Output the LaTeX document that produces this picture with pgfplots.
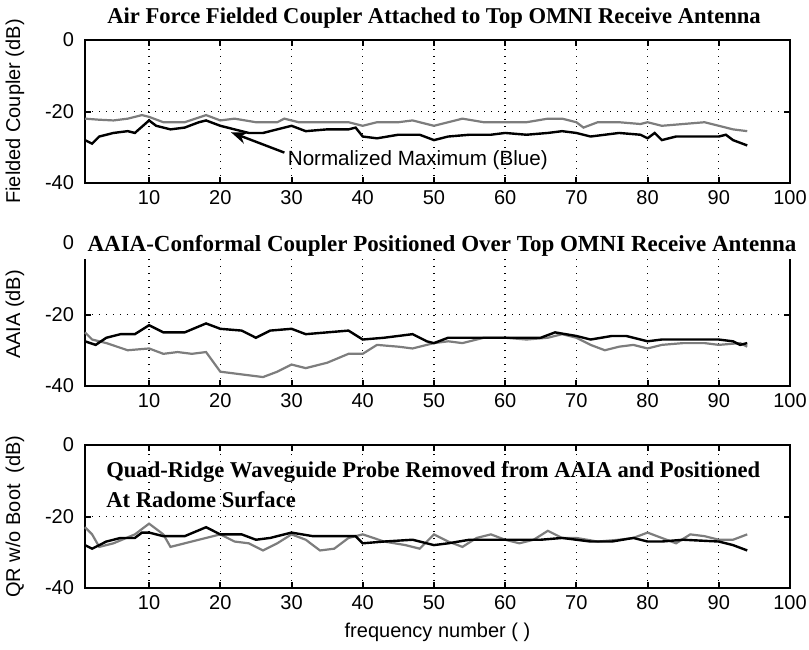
\documentclass[border=0pt]{standalone}
\usepackage{pgfplots}
\pgfplotsset{compat=1.18}
\usetikzlibrary{arrows.meta}
\usepackage{fontspec}
\setmainfont{Liberation Serif}
\newfontfamily\arial{Liberation Sans}
\definecolor{lgray}{RGB}{125,125,125}

\pgfplotsset{
  panel/.style={
    width=352.5pt, height=71.5pt, scale only axis,
    xmin=1, xmax=100, ymin=-40, ymax=0,
    xtick={10,20,...,100}, ytick={-40,-20,0},
    grid=major,
    major grid style={black, line width=0.7pt, dash pattern=on 0.7pt off 2.8pt},
    tick align=inside, major tick length=3pt,
    axis line style={line width=1pt, black},
    tick style={line width=1pt, black},
    ticklabel style={font=\arial\fontsize{10}{12}\selectfont},
    yticklabel style={xshift=-2pt},
    /pgf/number format/assume math mode=true,
    xlabel style={font=\arial\fontsize{10}{12}\selectfont},
    every axis y label/.style={at={(axis description cs:-0.0993,0.5)}, rotate=90, anchor=center,
      font=\arial\fontsize{10}{12}\selectfont},
    clip=false,
  },
  blk/.style={black, line width=1.2pt},
  gry/.style={lgray, line width=1.1pt},
}

\begin{document}
\begin{tikzpicture}
\useasboundingbox (0,0) rectangle (404.5pt,-324.5pt);

% ---------------- panel 1 ----------------
\begin{axis}[panel, name=ax1, at={(42.5pt,-20pt)}, anchor=north west,
  ylabel={Fielded Coupler (dB)}]
\addplot[gry] coordinates {
(1,-22) (3,-22.3) (5,-22.5) (7,-22) (9,-21) (10,-21.5) (12,-23) (15,-23) (18,-21)
(20,-22.5) (22,-22) (25,-23) (28,-23) (29,-22) (31,-23) (35,-23) (38,-23) (40,-24)
(42,-23) (45,-23) (47,-22.5) (50,-24) (52,-23) (54,-22) (57,-23) (60,-23) (63,-23)
(66,-22) (68,-22) (70,-23) (71,-24.5) (73,-23) (76,-23) (79,-23.5) (80,-23) (82,-24)
(85,-23.5) (88,-23) (90,-24) (92,-25) (94,-25.5)};
\addplot[blk] coordinates {
(1,-28) (2,-29) (3,-27) (5,-26) (7,-25.5) (8,-26) (10,-22.5) (11,-24) (13,-25)
(15,-24.5) (17,-23) (18,-22.5) (20,-24) (22,-25) (24,-26) (26,-26) (28,-25) (30,-24)
(32,-25.5) (35,-25) (38,-25) (39,-24.5) (40,-27) (42,-27.5) (45,-26.5) (48,-26.5)
(50,-28) (52,-27) (55,-26.5) (58,-26.5) (60,-26) (63,-26.5) (66,-26) (68,-25.5)
(70,-26) (72,-27) (74,-26.5) (76,-26) (79,-26.5) (80,-27.5) (81,-26) (82,-28)
(84,-27) (87,-27) (90,-27) (91,-26.5) (92,-28) (94,-29.5)};
\draw[-{Stealth[length=8pt,width=6pt]}, line width=1.2pt] (axis cs:29,-31.5) -- (axis cs:21.5,-25.8);
\node[font=\arial\fontsize{10.3}{12}\selectfont, anchor=west] at (axis cs:28.5,-33.5) {Normalized Maximum (Blue)};
\end{axis}
\node[font=\bfseries\fontsize{11.3}{13}\selectfont] at (217pt,-9pt) {Air Force Fielded Coupler Attached to Top OMNI Receive Antenna};

% ---------------- panel 2 ----------------
\begin{axis}[panel, name=ax2, at={(42.5pt,-121.5pt)}, anchor=north west,
  ylabel={AAIA (dB)}]
\addplot[gry] coordinates {
(1,-25) (2,-27) (4,-28) (7,-30) (10,-29.5) (12,-31) (14,-30.5) (16,-31) (18,-30.5)
(20,-36) (22,-36.5) (24,-37) (26,-37.5) (28,-36) (30,-34) (32,-35) (35,-33.5)
(38,-31) (40,-31) (42,-28.5) (45,-29) (47,-29.5) (50,-28) (52,-27.5) (54,-28)
(57,-26.5) (60,-26.5) (63,-27) (66,-26.5) (68,-25.5) (70,-26.5) (72,-28.5) (74,-30)
(76,-29) (78,-28.5) (80,-29.5) (82,-28.5) (85,-28) (88,-28) (90,-28.5) (93,-28) (94,-29)};
\addplot[blk] coordinates {
(1,-27.5) (2.5,-28.5) (4,-26.5) (6,-25.5) (8,-25.5) (10,-23) (12,-25) (15,-25)
(18,-22.5) (20,-24) (23,-24.5) (25,-26.5) (27,-24.5) (30,-24) (32,-25.5) (35,-25)
(38,-24.5) (40,-27) (43,-26.5) (45,-26) (47,-25.5) (49,-27.5) (50,-28) (52,-26.5)
(55,-26.5) (60,-26.5) (65,-26.5) (67,-25) (70,-26) (72,-27) (75,-26) (77,-26)
(80,-27.5) (82,-27) (85,-27) (90,-27) (92,-27.5) (93,-28.5) (94,-28)};
\end{axis}
\node[fill=white, inner sep=0pt, minimum width=358pt, minimum height=13pt] at (220pt,-123pt) {};
\node[font=\bfseries\fontsize{11.5}{13}\selectfont, inner sep=1pt] at (221pt,-123pt)
  {AAIA-Conformal Coupler Positioned Over Top OMNI Receive Antenna};

% ---------------- panel 3 ----------------
\begin{axis}[panel, name=ax3, at={(42.5pt,-222.5pt)}, anchor=north west,
  ylabel={QR w/o Boot\ \ (dB)}, xlabel={frequency number ( )}]
\addplot[gry] coordinates {
(1,-23) (2,-25) (3,-28.5) (5,-27.5) (8,-25) (10,-22) (12,-25) (13,-28.5) (15,-27.5)
(18,-26) (20,-25) (22,-27) (24,-27.5) (26,-29.5) (28,-27.5) (30,-25) (32,-26.5)
(34,-29.5) (36,-29) (38,-26) (40,-25) (43,-27) (46,-28) (48,-29) (50,-25) (52,-27)
(54,-28.5) (56,-26) (58,-25) (60,-26.5) (62,-27.5) (64,-26.5) (66,-24) (68,-26)
(70,-26) (73,-27) (76,-26.5) (78,-26) (80,-24.5) (82,-26) (84,-27.5) (86,-25)
(88,-25.5) (90,-26.5) (92,-26.5) (94,-25)};
\addplot[blk] coordinates {
(1,-28) (2,-29) (4,-27) (6,-26) (8,-26) (9,-24.5) (10,-24.5) (12,-25.5) (15,-25.5)
(18,-23) (20,-25) (23,-25) (25,-26.5) (27,-26) (30,-24.5) (33,-25.5) (36,-25.5)
(39,-25.5) (40,-27.5) (43,-27) (47,-26.5) (50,-28) (52,-27.5) (55,-26.5) (60,-26.5)
(65,-26.5) (68,-26) (70,-26.5) (72,-27) (75,-27) (78,-26) (80,-27) (82,-27)
(85,-26.5) (90,-27) (92,-28) (94,-29.5)};
\node[font=\bfseries\fontsize{11.3}{13}\selectfont, anchor=west] at (axis cs:3,-7.6)
  {Quad-Ridge Waveguide Probe Removed from AAIA and Positioned};
\node[font=\bfseries\fontsize{11.3}{13}\selectfont, anchor=west] at (axis cs:3,-15.4)
  {At Radome Surface};
\end{axis}
\end{tikzpicture}
\end{document}
